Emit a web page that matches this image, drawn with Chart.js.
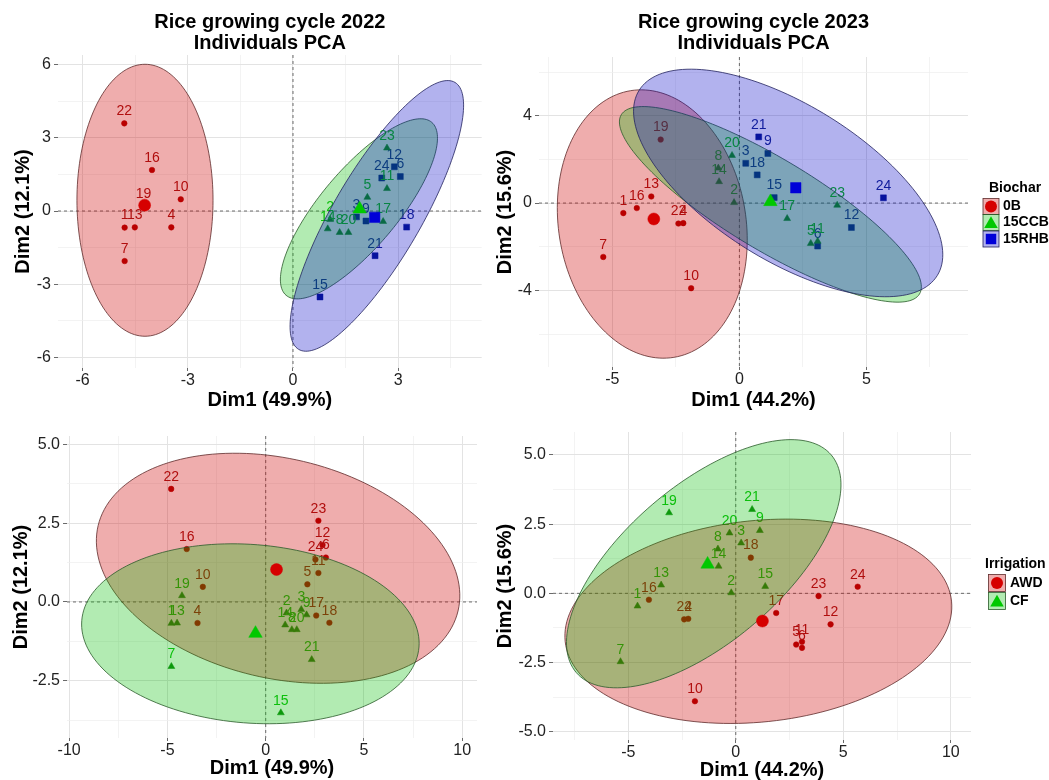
<!DOCTYPE html>
<html>
<head>
<meta charset="utf-8">
<title>Rice growing cycle - Individuals PCA</title>
<script src="https://cdn.jsdelivr.net/npm/chart.js@4.4.1/dist/chart.umd.min.js"></script>
<style>
  body { margin: 0; background: #fff; }
  #wrap { position: relative; width: 1049px; height: 780px; overflow: hidden; }
  canvas { position: absolute; }
</style>
</head>
<body>
<div id="wrap">
  <canvas id="pca2022b" width="490" height="412" style="left:0;top:0"></canvas>
  <canvas id="pca2023b" width="559" height="412" style="left:490px;top:0"></canvas>
  <canvas id="pca2022i" width="490" height="368" style="left:0;top:412px"></canvas>
  <canvas id="pca2023i" width="559" height="368" style="left:490px;top:412px"></canvas>
</div>
<script>
// individuals and their treatment groups
const individuals = ["1","2","3","4","5","6","7","8","9","10","11","12","13","14","15","16","17","18","19","20","21","22","23","24"];
const biochar = ["0B","15CCB","15RHB","0B","15CCB","15RHB","0B","15CCB","15RHB","0B","15CCB","15RHB",
                 "0B","15CCB","15RHB","0B","15CCB","15RHB","0B","15CCB","15RHB","0B","15CCB","15RHB"];
const irrigation = ["CF","CF","CF","AWD","AWD","AWD","CF","CF","CF","AWD","AWD","AWD",
                    "CF","CF","CF","AWD","AWD","AWD","CF","CF","CF","AWD","AWD","AWD"];
const biocharLevels = ["0B", "15CCB", "15RHB"];
const irrigationLevels = ["AWD", "CF"];

// PCA coordinates, 2022 cycle
const dim1_2022 = [-4.80, 1.06, 1.81, -3.47, 2.12, 3.06, -4.80, 1.33, 2.08, -3.20, 2.68, 2.89,
                   -4.51, 0.99, 0.77, -4.02, 2.57, 3.24, -4.26, 1.58, 2.34, -4.81, 2.68, 2.53];
const dim2_2022 = [-0.68, -0.35, -0.24, -0.67, 0.56, 1.41, -2.05, -0.88, -0.41, 0.48, 0.92, 1.81,
                   -0.67, -0.73, -3.52, 1.68, -0.43, -0.66, 0.20, -0.88, -1.83, 3.59, 2.58, 1.35];
// PCA coordinates, 2023 cycle
const dim1_2023 = [-4.57, -0.21, 0.25, -2.21, 2.81, 3.08, -5.36, -0.83, 1.12, -1.90, 3.08, 4.41,
                   -3.47, -0.80, 1.37, -4.04, 1.88, 0.70, -3.10, -0.29, 0.76, -2.40, 3.85, 5.67];
const dim2_2023 = [-0.46, 0.02, 1.82, -0.92, -1.85, -1.97, -2.47, 1.60, 2.27, -3.90, -1.75, -1.12,
                   0.30, 0.98, 0.25, -0.23, -0.71, 1.29, 2.91, 2.18, 3.03, -0.94, -0.10, 0.24];

// group centres (big markers)
const biocharMeanX2022 = [-4.23, 1.90, 2.33];
const biocharMeanY2022 = [0.24, 0.08, -0.26];
const irrigationMeanX2022 = [0.55, -0.52];
const irrigationMeanY2022 = [1.03, -1.00];
const biocharMeanX2023 = [-3.37, 1.22, 2.22];
const biocharMeanY2023 = [-0.73, 0.06, 0.70];
const irrigationMeanX2023 = [1.24, -1.31];
const irrigationMeanY2023 = [-1.00, 1.05];

// ellipses: centre x, centre y, then the two semi-axis vectors (data units)
const ellipse2022Biochar = [
  [-4.22, 0.44, 0.000, 5.570, 1.940, 0.000],
  [1.88, 0.09, 2.078, 3.540, -0.835, 1.038],
  [2.39, -0.20, 2.230, 5.466, -1.071, 0.925]
];
const ellipse2023Biochar = [
  [-3.43, -0.96, -0.851, 6.108, -3.641, -0.687],
  [1.22, -0.06, 5.871, -4.105, 0.927, 1.794],
  [1.92, 0.92, 5.869, -4.243, 1.617, 3.027]
];
const ellipse2022Irrigation = [
  [0.63, 1.07, 9.155, -1.356, 1.291, 3.392],
  [-0.78, -1.01, 8.579, -0.421, 0.357, 2.826]
];
const ellipse2023Irrigation = [
  [1.05, -1.01, 8.984, 0.728, -0.486, 3.620],
  [-1.49, 1.07, 5.928, 3.933, -2.368, 2.155]
];

// axis ticks
const p1XMajor = [-6, -3, 0, 3], p1XLabels = ["-6", "-3", "0", "3"], p1XMinor = [-4.5, -1.5, 1.5, 4.5];
const p1YMajor = [-6, -3, 0, 3, 6], p1YLabels = ["-6", "-3", "0", "3", "6"], p1YMinor = [-4.5, -1.5, 1.5, 4.5];
const p2XMajor = [-5, 0, 5], p2XLabels = ["-5", "0", "5"], p2XMinor = [-7.5, -2.5, 2.5, 7.5];
const p2YMajor = [-4, 0, 4], p2YLabels = ["-4", "0", "4"], p2YMinor = [-6, -2, 2, 6];
const p3XMajor = [-10, -5, 0, 5, 10], p3XLabels = ["-10", "-5", "0", "5", "10"], p3XMinor = [-7.5, -2.5, 2.5, 7.5];
const p3YMajor = [-2.5, 0, 2.5, 5], p3YLabels = ["-2.5", "0.0", "2.5", "5.0"], p3YMinor = [-3.75, -1.25, 1.25, 3.75];
const p4XMajor = [-5, 0, 5, 10], p4XLabels = ["-5", "0", "5", "10"], p4XMinor = [-7.5, -2.5, 2.5, 7.5];
const p4YMajor = [-5, -2.5, 0, 2.5, 5], p4YLabels = ["-5.0", "-2.5", "0.0", "2.5", "5.0"], p4YMinor = [-3.75, -1.25, 1.25, 3.75];

Chart.defaults.font.family = '"Liberation Sans", Arial, sans-serif';

const RED = { shape: "circle", r: 2.8, R: 6, point: "#B00000", label: "#A31515", mean: "#D60000",
              fill: "rgba(205,0,0,0.32)", edge: "#5e2a2a" };
const GREEN = { shape: "triangle", r: 4, R: 7.8, point: "#138A13", label: "#10C010", mean: "#00C800",
                fill: "rgba(0,190,0,0.30)", edge: "#2a5a2a" };
const BLUE = { shape: "rect", r: 4.2, R: 7.4, point: "#0A1A8C", label: "#1A2A8C", mean: "#0000D8",
               fill: "rgba(0,0,200,0.30)", edge: "#22225e" };
const LOOK = { "0B": RED, "15CCB": GREEN, "15RHB": BLUE, "AWD": RED, "CF": GREEN };

function shapePath(ctx, shape, x, y, r) {
  ctx.beginPath();
  if (shape === "circle") {
    ctx.arc(x, y, r, 0, Math.PI * 2);
  } else if (shape === "triangle") {
    for (let k = 0; k < 3; k++) {
      const a = k * 2 * Math.PI / 3;
      const px = x + Math.sin(a) * r, py = y - Math.cos(a) * r;
      k ? ctx.lineTo(px, py) : ctx.moveTo(px, py);
    }
    ctx.closePath();
  } else {
    const s = Math.SQRT1_2 * r;
    ctx.rect(x - s, y - s, 2 * s, 2 * s);
  }
}

function drawEllipses(chart, list) {
  const { ctx, chartArea: a, scales: { x, y } } = chart;
  ctx.save();
  ctx.beginPath();
  ctx.rect(a.left, a.top, a.width, a.height);
  ctx.clip();
  list.forEach(el => {
    const [cx, cy, ax, ay, bx, by] = el.shape;
    ctx.beginPath();
    for (let k = 0; k <= 160; k++) {
      const t = k / 160 * Math.PI * 2;
      const px = x.getPixelForValue(cx + ax * Math.cos(t) + bx * Math.sin(t));
      const py = y.getPixelForValue(cy + ay * Math.cos(t) + by * Math.sin(t));
      k ? ctx.lineTo(px, py) : ctx.moveTo(px, py);
    }
    ctx.closePath();
    ctx.fillStyle = el.fill;
    ctx.fill();
    ctx.strokeStyle = el.edge;
    ctx.lineWidth = 0.8;
    ctx.stroke();
  });
  ctx.restore();
}

const pcaPlugin = {
  id: "pca",
  beforeDatasetsDraw(chart) {
    chart.$ellDone = false;
    const { ctx, chartArea: a, scales: { x, y } } = chart;
    const x0 = x.getPixelForValue(0), y0 = y.getPixelForValue(0);
    ctx.save();
    ctx.strokeStyle = "#4a4a4a";
    ctx.lineWidth = 0.8;
    ctx.setLineDash([3, 3]);
    ctx.beginPath();
    ctx.moveTo(x0, a.top); ctx.lineTo(x0, a.bottom);
    ctx.moveTo(a.left, y0); ctx.lineTo(a.right, y0);
    ctx.stroke();
    ctx.restore();
  },
  afterDatasetDraw(chart, args) {
    const ds = chart.data.datasets[args.index];
    if (ds.kind !== "ind") return;
    const ctx = chart.ctx;
    ctx.save();
    ctx.font = '14px "Liberation Sans", Arial, sans-serif';
    ctx.fillStyle = ds.labelColor;
    ctx.textAlign = "center";
    ctx.textBaseline = "middle";
    args.meta.data.forEach((el, j) => ctx.fillText(ds.labels[j], el.x, el.y - 12));
    ctx.restore();
  },
  beforeDatasetDraw(chart, args, opts) {
    const ds = chart.data.datasets[args.index];
    if (ds.kind !== "mean" || chart.$ellDone) return;
    chart.$ellDone = true;
    drawEllipses(chart, opts.ellipses);
  },
  afterDraw(chart, args, opts) {
    const lg = opts.legend;
    if (!lg) return;
    const ctx = chart.ctx;
    ctx.save();
    ctx.fillStyle = "#000";
    ctx.font = 'bold 14px "Liberation Sans", Arial, sans-serif';
    ctx.textAlign = "left";
    ctx.textBaseline = "middle";
    ctx.fillText(lg.title, lg.titleX, lg.titleY);
    lg.items.forEach((name, k) => {
      const st = LOOK[name];
      const cy = lg.rowY[k], h = lg.size / 2;
      ctx.fillStyle = st.fill;
      ctx.fillRect(lg.keyX - h, cy - h, lg.size, lg.size);
      ctx.strokeStyle = st.edge;
      ctx.lineWidth = 0.8;
      ctx.strokeRect(lg.keyX - h, cy - h, lg.size, lg.size);
      shapePath(ctx, st.shape, lg.keyX, cy + (st.shape === "triangle" ? 1.5 : 0), st.R);
      ctx.fillStyle = st.mean;
      ctx.fill();
      ctx.fillStyle = "#000";
      ctx.fillText(name, lg.textX, cy);
    });
    ctx.restore();
  }
};

function axis(min, max, major, minor, labels, title, titlePad, size, horizontal) {
  const all = major.concat(minor).filter(v => v >= min && v <= max).sort((a, b) => a - b);
  const isMajor = v => major.indexOf(v) >= 0;
  return {
    type: "linear",
    min: min,
    max: max,
    afterBuildTicks: s => { s.ticks = all.map(v => ({ value: v })); },
    afterFit: s => { if (horizontal) s.height = size; else s.width = size; },
    ticks: {
      autoSkip: false,
      maxRotation: 0,
      padding: horizontal ? 0 : 3,
      color: "#222",
      font: { size: 16 },
      callback: v => { const k = major.indexOf(v); return k < 0 ? "" : labels[k]; }
    },
    grid: {
      color: c => isMajor(c.tick.value) ? "#e3e3e3" : "#eeeeee",
      lineWidth: c => isMajor(c.tick.value) ? 1 : 0.7,
      tickLength: horizontal ? 3 : 4,
      tickWidth: 0.8,
      tickColor: c => isMajor(c.tick.value) ? "#444" : "rgba(0,0,0,0)"
    },
    border: { display: false },
    title: {
      display: true,
      text: title,
      color: "#000",
      font: { size: 20, weight: "bold", lineHeight: 1.0 },
      padding: horizontal ? { top: 0, bottom: titlePad } : { top: titlePad, bottom: 0 }
    }
  };
}

function buildPanel(id, p) {
  const datasets = [];
  p.levels.forEach(lv => {
    const pts = [], labs = [];
    p.groups.forEach((name, i) => {
      if (name === lv) {
        pts.push({ x: p.dim1[i], y: p.dim2[i] });
        labs.push(individuals[i]);
      }
    });
    const st = LOOK[lv];
    datasets.push({
      kind: "ind", label: lv, data: pts, labels: labs, labelColor: st.label,
      pointStyle: st.shape, pointRadius: st.r, backgroundColor: st.point,
      borderColor: st.point, borderWidth: 0.5, order: 2
    });
  });
  p.levels.forEach((lv, g) => {
    const st = LOOK[lv];
    datasets.push({
      kind: "mean", label: lv + " mean", data: [{ x: p.meanX[g], y: p.meanY[g] }],
      pointStyle: st.shape, pointRadius: st.R, backgroundColor: st.mean,
      borderColor: st.mean, borderWidth: 0.5, order: 1
    });
  });
  const ellipses = p.ellipses.map((e, g) => ({
    shape: e, fill: LOOK[p.levels[g]].fill, edge: LOOK[p.levels[g]].edge
  }));

  return new Chart(document.getElementById(id), {
    type: "scatter",
    data: { datasets: datasets },
    plugins: [pcaPlugin],
    options: {
      responsive: false,
      animation: false,
      events: [],
      layout: { padding: p.padding },
      scales: { x: p.x, y: p.y },
      plugins: {
        legend: { display: false },
        tooltip: { enabled: false },
        title: {
          display: !!p.title,
          text: p.title,
          fullSize: false,
          color: "#000",
          font: { size: 20, weight: "bold", lineHeight: 1.05 },
          padding: p.titlePad
        },
        pca: { ellipses: ellipses, legend: p.legend }
      }
    }
  });
}

buildPanel("pca2022b", {
  groups: biochar, levels: biocharLevels, dim1: dim1_2022, dim2: dim2_2022,
  meanX: biocharMeanX2022, meanY: biocharMeanY2022, ellipses: ellipse2022Biochar,
  title: ["Rice growing cycle 2022", "Individuals PCA"], titlePad: { top: 11.5, bottom: 1.5 },
  padding: { left: 0, right: 3, top: 0, bottom: 0 },
  x: axis(-6.70, 5.38, p1XMajor, p1XMinor, p1XLabels, "Dim1 (49.9%)", 2, 44, true),
  y: axis(-6.43, 6.39, p1YMajor, p1YMinor, p1YLabels, "Dim2 (12.1%)", 13, 58, false),
  legend: null
});

buildPanel("pca2023b", {
  groups: biochar, levels: biocharLevels, dim1: dim1_2023, dim2: dim2_2023,
  meanX: biocharMeanX2023, meanY: biocharMeanY2023, ellipses: ellipse2023Biochar,
  title: ["Rice growing cycle 2023", "Individuals PCA"], titlePad: { top: 11.5, bottom: 3.5 },
  padding: { left: 0, right: 81, top: 0, bottom: 0 },
  x: axis(-7.89, 9.00, p2XMajor, p2XMinor, p2XLabels, "Dim1 (44.2%)", 2, 45, true),
  y: axis(-7.51, 6.69, p2YMajor, p2YMinor, p2YLabels, "Dim2 (15.6%)", 5.5, 49, false),
  legend: { title: "Biochar", titleX: 499, titleY: 188, keyX: 501, textX: 513,
            rowY: [206.5, 222.5, 239], size: 16, items: biocharLevels }
});

buildPanel("pca2022i", {
  groups: irrigation, levels: irrigationLevels, dim1: dim1_2022, dim2: dim2_2022,
  meanX: irrigationMeanX2022, meanY: irrigationMeanY2022, ellipses: ellipse2022Irrigation,
  title: null, titlePad: 0,
  padding: { left: 0, right: 13, top: 24, bottom: 0 },
  x: axis(-10.11, 10.75, p3XMajor, p3XMinor, p3XLabels, "Dim1 (49.9%)", 2, 42, true),
  y: axis(-4.32, 5.27, p3YMajor, p3YMinor, p3YLabels, "Dim2 (12.1%)", 11.5, 67, false),
  legend: null
});

buildPanel("pca2023i", {
  groups: irrigation, levels: irrigationLevels, dim1: dim1_2023, dim2: dim2_2023,
  meanX: irrigationMeanX2023, meanY: irrigationMeanY2023, ellipses: ellipse2023Irrigation,
  title: null, titlePad: 0,
  padding: { left: 0, right: 78, top: 20, bottom: 0 },
  x: axis(-8.50, 10.94, p4XMajor, p4XMinor, p4XLabels, "Dim1 (44.2%)", 0, 40, true),
  y: axis(-5.30, 5.83, p4YMajor, p4YMinor, p4YLabels, "Dim2 (15.6%)", 5, 63, false),
  legend: { title: "Irrigation", titleX: 495, titleY: 152, keyX: 507, textX: 520,
            rowY: [171, 189], size: 17, items: irrigationLevels }
});
</script>
</body>
</html>
